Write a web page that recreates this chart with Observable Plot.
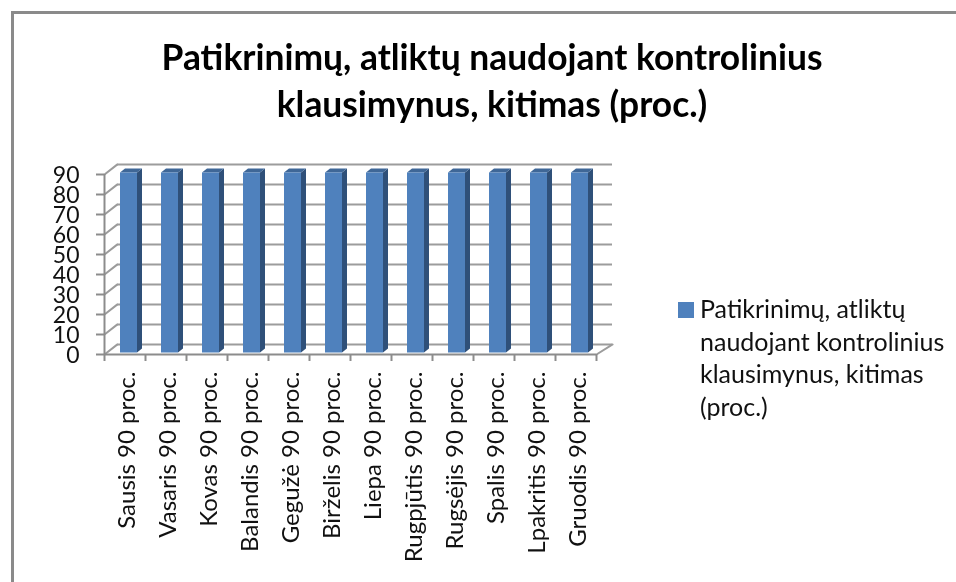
<!DOCTYPE html>
<html><head><meta charset="utf-8">
<script src="https://cdn.jsdelivr.net/npm/d3@7"></script>
<script src="https://cdn.jsdelivr.net/npm/@observablehq/plot@0.6"></script>
<style>
html,body{margin:0;padding:0;background:#fff;overflow:hidden}
#wrap{position:relative;width:956px;height:582px;font-family:Lato,sans-serif;color:#000;overflow:hidden;filter:blur(.35px)}
#frame{position:absolute;left:11px;top:11px;width:960px;height:600px;border:3px solid #8a8a8a;box-sizing:border-box}
#title{position:absolute;left:0;top:33px;width:984px;text-align:center;font-size:35.4px;font-weight:700;line-height:47px;margin:0}
#chart{position:absolute;left:0;top:140px}
#legend{position:absolute;left:678px;top:292px;width:272px;font-size:25px;line-height:32.7px;color:#111;padding-left:22px;box-sizing:border-box}
#legend i{position:absolute;left:0;top:10px;width:16px;height:16px;background:#4f81bd}
svg{display:block;overflow:visible}
</style></head><body>
<div id="wrap">
<div id="frame"></div>
<h1 id="title">Patikrinimų, atliktų naudojant kontrolinius<br>klausimynus, kitimas (proc.)</h1>
<div id="chart"></div>
<div id="legend"><i></i>Patikrinimų, atliktų naudojant kontrolinius klausimynus, kitimas (proc.)</div>
</div>
<script>
const months = ["Sausis","Vasaris","Kovas","Balandis","Gegužė","Birželis","Liepa","Rugpjūtis","Rugsėjis","Spalis","Lpakritis","Gruodis"];
const values = [90,90,90,90,90,90,90,90,90,90,90,90];
const yTicks = [0,10,20,30,40,50,60,70,80,90];
const data = months.map((m,i)=>({month:m,value:values[i]}));

const gridColor="#9c9c9c", axisColor="#8c8c8c", front="#4f81bd", side="#2f5079", topFace="#3f6797";
const depthX=13, depthY=10, barL=16, barR=8, lift=1.5, bx=5, by=4;

// Diagonal stroke for the side wall and the floor edge
const diagonal = {draw(ctx,l){ctx.moveTo(0,0);ctx.lineTo(0,-l);}};

// Side and top faces of each bar, placed through the chart's scales
function barDepth(index, scales){
  const g=d3.create("svg:g");
  const {x,y}=scales, w=x.bandwidth();
  for(const d of data){
    const x1=x(d.month)+barL, x2=x(d.month)+w-barR;
    const y0=y(0)-lift, yv=y(d.value)-lift;
    g.append("polygon").attr("fill",side)
      .attr("points",`${x2},${yv} ${x2+bx},${yv-by} ${x2+bx},${y0-by} ${x2},${y0}`);
    g.append("polygon").attr("fill",topFace)
      .attr("points",`${x1},${yv} ${x1+bx},${yv-by} ${x2+bx},${yv-by} ${x2},${yv}`);
  }
  return g.node();
}

const chart = Plot.plot({
  width:956, height:442,
  marginTop:34, marginBottom:228, marginLeft:104, marginRight:360,
  style:{fontFamily:"Lato,sans-serif",background:"transparent",color:"#111"},
  x:{type:"band",domain:months,padding:0,label:null},
  y:{type:"linear",domain:[0,90],label:null},
  marks:[
    // back wall gridlines
    Plot.ruleY(yTicks,{stroke:gridColor,strokeWidth:2,strokeOpacity:1,insetLeft:depthX,insetRight:-16,dy:-depthY}),
    // side wall diagonals
    Plot.vector(yTicks,{y:d=>d,frameAnchor:"left",length:16,rotate:52,anchor:"start",shape:diagonal,stroke:gridColor,strokeWidth:2}),
    // floor right edge
    Plot.vector([0],{y:d=>d,frameAnchor:"right",length:19,rotate:58,anchor:"start",shape:diagonal,stroke:gridColor,strokeWidth:2}),
    // front edges
    Plot.ruleY([0],{stroke:axisColor,strokeWidth:2}),
    Plot.ruleX([months[0]],{x:d=>d,dx:-20.5,stroke:axisColor,strokeWidth:2}),
    // y ticks
    Plot.ruleY(yTicks,{stroke:axisColor,strokeWidth:2,insetLeft:-8,insetRight:492}),
    // x ticks at the band edges
    Plot.ruleX(months,{x:d=>d,dx:-20.5,stroke:axisColor,strokeWidth:2,insetTop:180,insetBottom:-7}),
    Plot.ruleX([months[11]],{x:d=>d,dx:20.5,stroke:axisColor,strokeWidth:2,insetTop:180,insetBottom:-7}),
    // bars
    barDepth,
    Plot.barY(data,{x:"month",y:"value",fill:front,insetLeft:barL,insetRight:barR,dy:-lift}),
    // axes
    Plot.axisY({ticks:yTicks,tickSize:0,tickPadding:25,fontSize:23,dy:1}),
    Plot.axisX({tickRotate:-90,tickSize:0,tickPadding:17,fontSize:24,dx:2.5,tickFormat:d=>`${d} ${values[months.indexOf(d)]} proc.`})
  ]
});
document.getElementById("chart").append(chart);
</script>
</body></html>
